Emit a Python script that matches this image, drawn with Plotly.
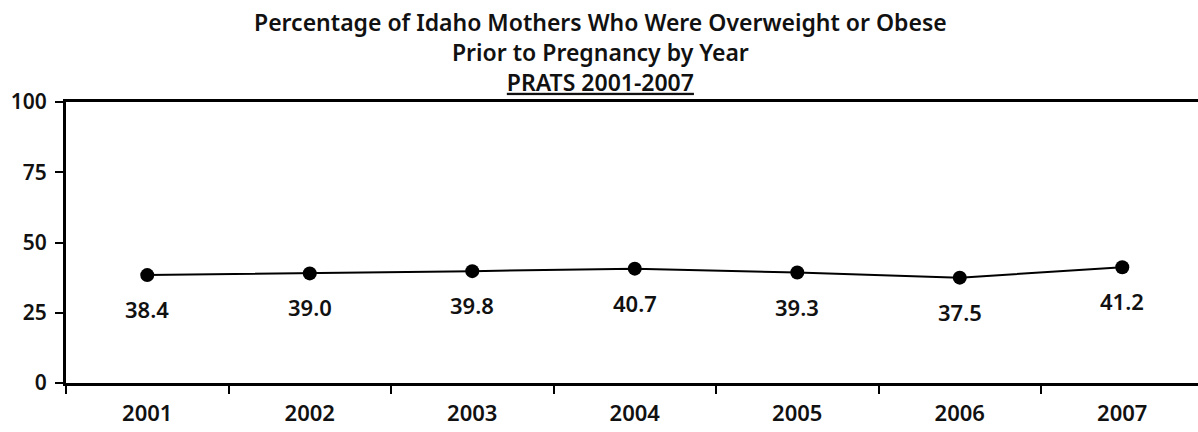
import plotly.graph_objects as go

years = ["2001", "2002", "2003", "2004", "2005", "2006", "2007"]
values = [38.4, 39.0, 39.8, 40.7, 39.3, 37.5, 41.2]
y_ticks = [0, 25, 50, 75, 100]
title_lines = ["Percentage of Idaho Mothers Who Were Overweight or Obese",
               "Prior to Pregnancy by Year",
               "<u>PRATS 2001-2007</u>"]

FONT = "Noto Sans"
TXT = "#111"
W = 600

fig = go.Figure()
fig.add_trace(go.Scatter(
    x=years, y=values, mode="lines+markers",
    line=dict(color="black", width=2),
    marker=dict(color="black", size=14),
    hoverinfo="x+y",
))

for i, v in enumerate(values):
    fig.add_annotation(x=i, y=v, xref="x", yref="y", text=f"{v:.1f}", showarrow=False,
                       yshift=-34,
                       font=dict(family=FONT, size=22, color=TXT, weight=W))

fig.add_annotation(
    text="<br>".join(title_lines), xref="paper", yref="paper",
    x=(600 - 66) / 1132, y=1, xanchor="center", yanchor="bottom", yshift=2,
    showarrow=False, align="center",
    font=dict(family=FONT, size=23, color=TXT, weight=W),
)

fig.update_layout(
    width=1198, height=432,
    margin=dict(l=66, r=0, t=102, b=49),
    plot_bgcolor="white", paper_bgcolor="white",
    showlegend=False,
    xaxis=dict(
        type="category", range=[-0.5, 6.466],
        showline=True, linecolor="black", linewidth=3, mirror=True,
        ticks="outside", tickson="boundaries", ticklen=8, tickwidth=2, tickcolor="black",
        showgrid=False, zeroline=False, ticklabelstandoff=9,
        tickfont=dict(family=FONT, size=22, color=TXT, weight=W),
    ),
    yaxis=dict(
        range=[0, 100], tickvals=y_ticks,
        showline=True, linecolor="black", linewidth=3,
        ticks="outside", ticklen=8, tickwidth=2, tickcolor="black",
        showgrid=False, zeroline=False, ticklabelstandoff=4,
        tickfont=dict(family=FONT, size=21, color=TXT, weight=W),
    ),
)

fig.write_html("out.html", config={"displayModeBar": False},
               post_script="document.body.style.margin='0px';")
